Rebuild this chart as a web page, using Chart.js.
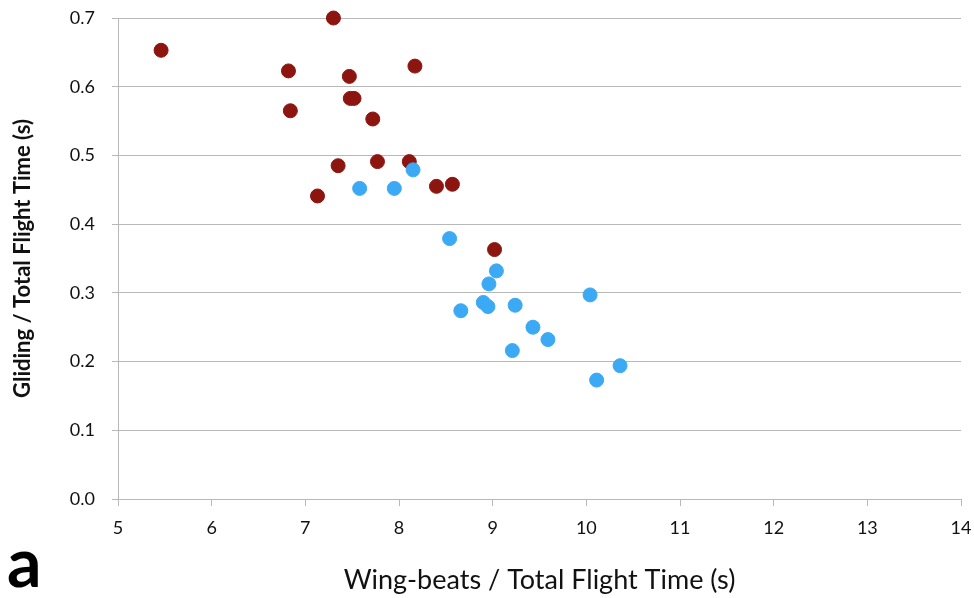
<!DOCTYPE html>
<html>
<head>
<meta charset="utf-8">
<script src="https://cdn.jsdelivr.net/npm/chart.js@4"></script>
<style>
  html, body { margin: 0; padding: 0; background: #fff; }
  #wrap { position: relative; width: 974px; height: 598px; }
  #panel {
    position: absolute; left: 7px; top: 527px;
    font: bold 68px Lato, sans-serif; color: #000; line-height: 1;
  }
</style>
</head>
<body>
<div id="wrap">
  <canvas id="scatter"></canvas>
  <div id="panel">a</div>
</div>
<script>
/* ── Datos ── */
const RED_X  = [5.46, 7.30, 6.82, 7.47, 8.17, 7.48, 7.52, 6.84, 7.72, 7.35, 7.77, 8.11, 7.13, 8.40, 8.57, 9.02];
const RED_Y  = [0.653, 0.700, 0.623, 0.615, 0.630, 0.583, 0.583, 0.565, 0.553, 0.485, 0.491, 0.491, 0.441, 0.455, 0.458, 0.363];

const BLUE_X = [7.58, 7.95, 8.15, 8.54, 9.04, 8.96, 8.66, 8.90, 8.95, 9.24, 10.04, 9.43, 9.59, 9.21, 10.36, 10.11];
const BLUE_Y = [0.452, 0.452, 0.479, 0.379, 0.332, 0.313, 0.274, 0.286, 0.280, 0.282, 0.297, 0.250, 0.232, 0.216, 0.194, 0.173];

const X_TITLE = 'Wing-beats / Total Flight Time (s)';
const Y_TITLE = 'Gliding / Total Flight Time (s)';

const RED   = '#8c1510';
const BLUE  = '#3ba9f4';
const GRID  = '#b8b8b8';
const FONT  = 'Lato, sans-serif';

/* ── Utilidades ── */
function toPoints(xs, ys) {
  return xs.map((x, i) => ({ x: x, y: ys[i] }));
}

/* ── Gráfico de dispersión ── */
function initScatter() {
  new Chart(document.getElementById('scatter'), {
    type: 'scatter',
    data: {
      datasets: [
        { data: toPoints(BLUE_X, BLUE_Y), backgroundColor: BLUE, borderColor: BLUE, pointRadius: 7, borderWidth: 1, clip: false },
        { data: toPoints(RED_X, RED_Y),   backgroundColor: RED,  borderColor: RED,  pointRadius: 7, borderWidth: 1, clip: false },
      ],
    },
    options: {
      responsive: true,
      maintainAspectRatio: false,
      animation: false,
      layout: { padding: { top: 18, right: 13, left: 0, bottom: 0 } },
      plugins: { legend: { display: false }, tooltip: { enabled: false } },
      scales: {
        x: {
          type: 'linear',
          min: 5, max: 14,
          afterFit: s => { s.height = 99; s.paddingLeft = 0; s.paddingRight = 0; },
          ticks: { stepSize: 1, padding: 11, color: '#111', font: { family: FONT, size: 18 } },
          grid:  { drawOnChartArea: false, tickLength: 7, color: GRID },
          border: { color: GRID },
          title: { display: true, text: X_TITLE, color: '#111', padding: { top: 0, bottom: 2 },
                   font: { family: FONT, size: 27 } },
        },
        y: {
          min: 0, max: 0.7,
          afterFit: s => { s.width = 118; s.paddingTop = 0; s.paddingBottom = 0; },
          ticks: { stepSize: 0.1, padding: 17, color: '#111', font: { family: FONT, size: 18 },
                   callback: v => v.toFixed(1) },
          grid:  { tickLength: 6, color: GRID },
          border: { color: GRID },
          title: { display: true, text: Y_TITLE, color: '#111', padding: { top: 10, bottom: 0 },
                   font: { family: FONT, size: 22, weight: 'bold' } },
        },
      },
    },
  });
}

/* ── Init ── */
document.addEventListener('DOMContentLoaded', () => {
  initScatter();
});
</script>
</body>
</html>
